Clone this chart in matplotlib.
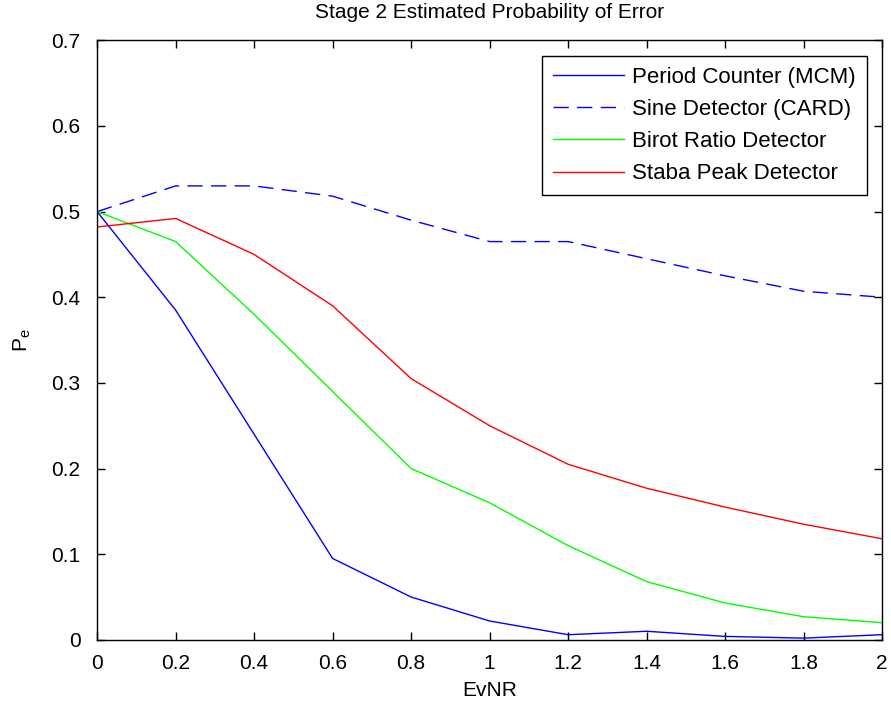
import matplotlib
matplotlib.use("Agg")
import matplotlib.pyplot as plt

evnr = [0, 0.2, 0.4, 0.6, 0.8, 1.0, 1.2, 1.4, 1.6, 1.8, 2.0]

period_counter = [0.5, 0.385, 0.24, 0.095, 0.05, 0.022, 0.006, 0.01, 0.004, 0.002, 0.006]
sine_detector = [0.5, 0.53, 0.53, 0.518, 0.49, 0.465, 0.465, 0.445, 0.425, 0.407, 0.4]
birot_ratio = [0.5, 0.465, 0.38, 0.29, 0.2, 0.16, 0.11, 0.068, 0.043, 0.027, 0.02]
staba_peak = [0.482, 0.492, 0.45, 0.39, 0.305, 0.25, 0.205, 0.177, 0.155, 0.135, 0.118]

xticks = [0, 0.2, 0.4, 0.6, 0.8, 1, 1.2, 1.4, 1.6, 1.8, 2]
xtick_labels = ["0", "0.2", "0.4", "0.6", "0.8", "1", "1.2", "1.4", "1.6", "1.8", "2"]
yticks = [0, 0.1, 0.2, 0.3, 0.4, 0.5, 0.6, 0.7]
ytick_labels = ["0", "0.1", "0.2", "0.3", "0.4", "0.5", "0.6", "0.7"]

plt.rcParams['font.family'] = ['Liberation Sans', 'DejaVu Sans']

fig = plt.figure(figsize=(8.91, 7.07), dpi=100)
ax = fig.add_axes([0.109, 0.095, 0.881, 0.848])

ax.plot(evnr, period_counter, color="#0000ff", lw=1, label="Period Counter (MCM)")
ax.plot(evnr, sine_detector, color="#0000ff", lw=1, ls=(0, (11, 6)), label="Sine Detector (CARD)")
ax.plot(evnr, birot_ratio, color="#00ff00", lw=1, label="Birot Ratio Detector")
ax.plot(evnr, staba_peak, color="#ff0000", lw=1, label="Staba Peak Detector")

ax.set_xlim(0, 2)
ax.set_ylim(0, 0.7)
ax.set_xticks(xticks)
ax.set_xticklabels(xtick_labels)
ax.set_yticks(yticks)
ax.set_yticklabels(ytick_labels)
ax.tick_params(direction="in", top=True, right=True, labelsize=15, length=6, width=1)
ax.tick_params(axis="x", pad=10)
ax.tick_params(axis="y", pad=12)
for s in ax.spines.values():
    s.set_linewidth(1)

ax.set_title("Stage 2 Estimated Probability of Error", fontsize=15, pad=16)
ax.set_xlabel("EvNR", fontsize=15, labelpad=6)
ax.set_ylabel("P$_\\mathregular{e}$", fontsize=15, labelpad=13)

leg = ax.legend(loc="upper right", fontsize=16, frameon=True, fancybox=False,
                edgecolor="black", framealpha=1, borderaxespad=0.7,
                handlelength=3.2, handletextpad=0.35, labelspacing=0.5,
                borderpad=0.5)
leg.get_frame().set_linewidth(1)

plt.savefig("out.png", dpi=100)
